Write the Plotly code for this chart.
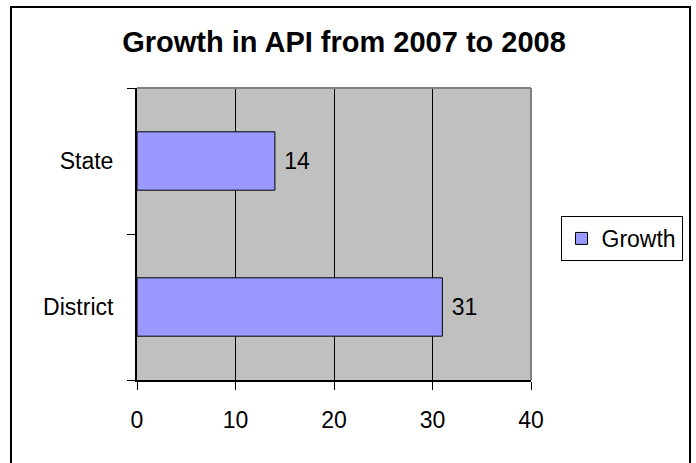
import plotly.graph_objects as go

categories = ["District", "State"]
values = [31, 14]
series_name = "Growth"
x_ticks = [0, 10, 20, 30, 40]

W, H = 696, 463
L, R, T, B = 137, 531, 88, 380
pw, ph = R - L, B - T

def px(x):
    return (x - L) / pw

def py(y):
    return (B - y) / ph

font = "Arial, Liberation Sans, sans-serif"
fs = 23

fig = go.Figure()
fig.add_trace(go.Bar(
    y=categories, x=values, orientation="h", name=series_name,
    marker=dict(color="#9999FF", line=dict(color="black", width=1)),
    text=[str(v) for v in values], texttemplate="\u00a0%{text}", textposition="outside",
    textfont=dict(size=fs, color="black", family=font),
    cliponaxis=False,
))

fig.update_layout(
    width=W, height=H,
    margin=dict(l=L, r=W - R, t=T, b=H - B),
    paper_bgcolor="white", plot_bgcolor="#C0C0C0",
    font=dict(family=font, size=fs, color="black"),
    bargap=0.6,
    showlegend=True,
    title=dict(text="<b>Growth in API from 2007 to 2008</b>", font=dict(size=29, family=font, color="black"),
               x=344 / W, xanchor="center", xref="container", y=1 - 42 / H, yanchor="middle", yref="container"),
    legend=dict(x=px(621.5), y=py(238.5), xanchor="center", yanchor="middle",
                bordercolor="black", borderwidth=1, bgcolor="white",
                font=dict(size=fs, family=font, color="black")),
    xaxis=dict(range=[0, 40], tickvals=x_ticks, showgrid=True, gridcolor="black", gridwidth=1,
               showline=True, linecolor="black", linewidth=2, ticks="outside", ticklen=8,
               tickcolor="black", tickwidth=1, zeroline=False, ticklabelstandoff=10,
               tickfont=dict(size=fs, family=font)),
    yaxis=dict(type="category", categoryorder="array", categoryarray=categories,
               showline=True, linecolor="black", linewidth=2, ticks="outside", ticklen=8,
               tickcolor="black", tickwidth=1, tickson="boundaries", showgrid=False,
               ticklabelstandoff=17, tickfont=dict(size=fs, family=font)),
    shapes=[
        dict(type="line", xref="paper", yref="paper", x0=0, x1=1, y0=1, y1=1,
             line=dict(color="#808080", width=2)),
        dict(type="line", xref="paper", yref="paper", x0=1, x1=1, y0=0, y1=1,
             line=dict(color="#808080", width=2)),
        dict(type="rect", xref="paper", yref="paper", x0=px(11), x1=px(690), y0=py(470), y1=py(7),
             line=dict(color="black", width=2), fillcolor="rgba(0,0,0,0)", layer="above"),
    ],
)

fig.write_html("out.html")
